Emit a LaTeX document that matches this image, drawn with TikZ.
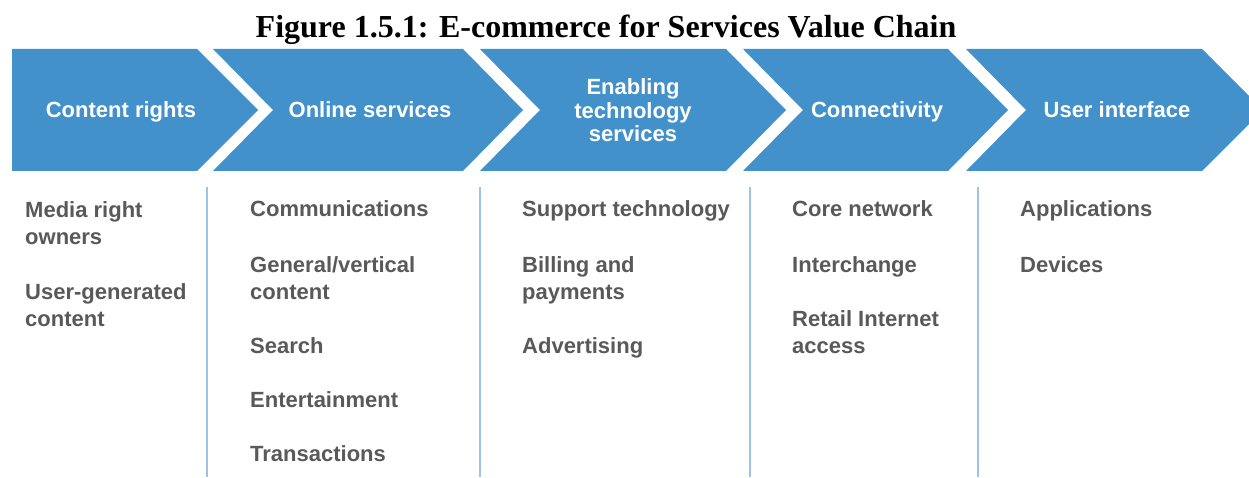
\documentclass[tikz,border=0pt]{standalone}
\usepackage{fontspec}
\newfontfamily\arialf{Liberation Sans}
\newfontfamily\timesf{Liberation Serif}
\definecolor{chevblue}{HTML}{4391CB}
\definecolor{bodygray}{HTML}{595959}
\definecolor{seplinec}{HTML}{9DC3E6}
\begin{document}
\begin{tikzpicture}[x=1pt,y=1pt,
  chev/.style={fill=chevblue,draw=none},
  head/.style={text=white,font=\arialf\bfseries\fontsize{22}{23.5}\selectfont,align=center,anchor=base,inner sep=0pt},
  item/.style={text=bodygray,font=\arialf\bfseries\fontsize{22}{27}\selectfont,align=left,anchor=base west,inner sep=0pt},
  sepline/.style={draw=seplinec,line width=1.5pt}]
\useasboundingbox (0,0) rectangle (1249,477);
\begin{scope}
\clip (0,0) rectangle (1249,477);
% chevrons
\path[chev] (12,428) -- (197,428) -- (258,367) -- (197,306) -- (12,306) -- cycle;
\path[chev] (213,428) -- (463,428) -- (523,367) -- (463,306) -- (213,306) -- (273,367) -- cycle;
\path[chev] (480,428) -- (726,428) -- (786,367) -- (726,306) -- (480,306) -- (540,367) -- cycle;
\path[chev] (743,428) -- (948,428) -- (1008,367) -- (948,306) -- (743,306) -- (803,367) -- cycle;
\path[chev] (966,428) -- (1202,428) -- (1263,367) -- (1202,306) -- (966,306) -- (1026,367) -- cycle;
\end{scope}
% title
\node[font=\timesf\bfseries\fontsize{32}{34}\selectfont,anchor=base,inner sep=0pt] (title) at (606,439) {Figure 1.5.1: E-commerce for Services Value Chain};
% headers (anchor = baseline of last line)
\node[head] (h1) at (121,359) {Content rights};
\node[head] (h2) at (370,359) {Online services};
\node[head] (h3) at (633,335) {Enabling\\technology\\services};
\node[head] (h4) at (877,359) {Connectivity};
\node[head] (h5) at (1117,359) {User interface};
% separators
\draw[sepline] (207,290) -- (207,0);
\draw[sepline] (480,290) -- (480,0);
\draw[sepline] (750,290) -- (750,0);
\draw[sepline] (978,290) -- (978,0);
% column 1 (anchor = baseline of last line)
\node[item] (c1a) at (25,233) {Media right\\owners};
\node[item] (c1b) at (25,151) {User-generated\\content};
% column 2
\node[item] (c2a) at (250,260) {Communications};
\node[item] (c2b) at (250,178) {General/vertical\\content};
\node[item] (c2c) at (250,124) {Search};
\node[item] (c2d) at (250,70) {Entertainment};
\node[item] (c2e) at (250,16) {Transactions};
% column 3
\node[item] (c3a) at (522,260) {Support technology};
\node[item] (c3b) at (522,178) {Billing and\\payments};
\node[item] (c3c) at (522,124) {Advertising};
% column 4
\node[item] (c4a) at (792,260) {Core network};
\node[item] (c4b) at (792,205) {Interchange};
\node[item] (c4c) at (792,124) {Retail Internet\\access};
% column 5
\node[item] (c5a) at (1020,260) {Applications};
\node[item] (c5b) at (1020,205) {Devices};
\end{tikzpicture}
\end{document}
